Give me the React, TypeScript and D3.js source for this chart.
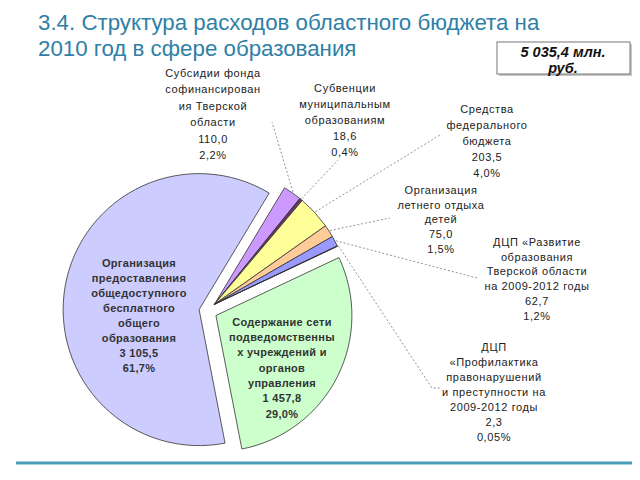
import * as d3 from 'd3';

// slices in clockwise order, starting with the large one
const names = [
  ['Организация', 'предоставления', 'общедоступного', 'бесплатного', 'общего', 'образования'],
  ['Субсидии фонда', 'софинансирован', 'ия Тверской', 'области'],
  ['Субвенции', 'муниципальным', 'образованиям'],
  ['Средства', 'федерального', 'бюджета'],
  ['Организация', 'летнего отдыха', 'детей'],
  ['ДЦП «Развитие', 'образования', 'Тверской области', 'на 2009-2012 годы'],
  ['ДЦП', '«Профилактика', 'правонарушений', 'и преступности на', '2009-2012 годы'],
  ['Содержание сети', 'подведомственны', 'х учреждений и', 'органов', 'управления'],
];
const values = [3105.5, 110.0, 18.6, 203.5, 75.0, 62.7, 2.3, 1457.8];
const shares = [61.7, 2.2, 0.4, 4.0, 1.5, 1.2, 0.05, 29.0];
const groups = [0, 1, 1, 1, 1, 1, 1, 2];
const total = 5035.4;

const titleLines = ['3.4. Структура расходов областного бюджета на', '2010 год в сфере образования'];

const colors = ['#ccccff', '#cc99ff', '#663366', '#ffff99', '#ffcc99', '#9999ff', '#800000', '#ccffcc'];

// label layout: centre x, first line y, line step
const labelPos: [number, number, number][] = [
  [139, 263, 15], [213, 73, 16.5], [345, 88, 16], [487, 109, 16],
  [441, 190, 14.7], [537, 242, 14.8], [494, 347, 15], [282, 322, 15.3],
];
// where leader lines end (null = label inside slice)
const leaderEnds: ([number, number][] | null)[] = [
  null,
  [[272, 122]],
  [[338, 160]],
  [[440, 135]],
  [[390, 218]],
  [[477, 278]],
  [[432, 388], [440, 388]],
  null,
];
const explode = [8, 10, 10];

const width = 640;
const height = 480;
const cx = 207;
const cy = 311;
const radius = 136;

const ru = d3.formatLocale({ decimal: ',', thousands: ' ', grouping: [3], currency: ['', ''] });
const fmtValue = ru.format(',.1f');
const fmtShare = (p: number) => (p < 0.1 ? p.toFixed(2) : p.toFixed(1)).replace('.', ',') + '%';

export default function App() {
  const start = (169 * Math.PI) / 180;
  const arcs = d3.pie<number>().sort(null).startAngle(start).endAngle(start + 2 * Math.PI)(values);
  const arc = d3.arc<d3.PieArcDatum<number>>().innerRadius(0).outerRadius(radius);

  // each group of slices is pulled out along its own middle angle
  const offsets = [0, 1, 2].map(g => {
    const members = arcs.filter((_, i) => groups[i] === g);
    const a0 = d3.min(members, d => d.startAngle)!;
    const a1 = d3.max(members, d => d.endAngle)!;
    const m = (a0 + a1) / 2;
    return [explode[g] * Math.sin(m), -explode[g] * Math.cos(m)];
  });

  const font = '"Liberation Sans", Arial, sans-serif';

  return (
    <svg width={width} height={height} style={{ position: 'absolute', left: 0, top: 0, background: '#fff' }}>
      {titleLines.map((t, i) => (
        <text key={i} x={38} y={30 + i * 26} fontFamily={font} fontSize={22.3} fill="#2e80a6">{t}</text>
      ))}

      <rect x={499} y={44} width={133} height={32} fill="#c8c8c8" />
      <rect x={497} y={42} width={133} height={32} fill="#fff" stroke="#777" strokeWidth={1} />
      <text x={563} y={57} textAnchor="middle" fontFamily={font} fontSize={14.5} fontWeight="bold" fontStyle="italic" fill="#111">
        {fmtValue(total)} млн.
      </text>
      <text x={563} y={73} textAnchor="middle" fontFamily={font} fontSize={14.5} fontWeight="bold" fontStyle="italic" fill="#111">
        руб.
      </text>

      <g transform={`translate(${cx},${cy})`}>
        {arcs.map((a, i) => {
          const [ox, oy] = offsets[groups[i]];
          return (
            <path key={i} d={arc(a)!} transform={`translate(${ox},${oy})`}
              fill={colors[i]} stroke="#333" strokeWidth={0.8} strokeLinejoin="round" />
          );
        })}
      </g>

      <g fill="none" stroke="#777" strokeWidth={0.8} strokeDasharray="2,2">
        {arcs.map((a, i) => {
          const ends = leaderEnds[i];
          if (!ends) return null;
          const [ox, oy] = offsets[groups[i]];
          const m = (a.startAngle + a.endAngle) / 2;
          const p0: [number, number] = [cx + ox + (radius + 1) * Math.sin(m), cy + oy - (radius + 1) * Math.cos(m)];
          return <path key={i} d={d3.line()([p0, ...ends])!} />;
        })}
      </g>

      {names.map((lines, i) => {
        const inside = leaderEnds[i] === null;
        const all = [...lines, fmtValue(values[i]), fmtShare(shares[i])];
        const [lx, ly, step] = labelPos[i];
        return (
          <text key={i} textAnchor="middle" fontFamily={font}
            fontSize={11}
            fontWeight={inside ? 'bold' : 'normal'}
            letterSpacing={inside ? 0.3 : 0.6}
            fill={inside ? '#333' : '#222'}>
            {all.map((t, j) => (
              <tspan key={j} x={lx} y={ly + j * step} dy="0.35em">{t}</tspan>
            ))}
          </text>
        );
      })}

      <line x1={16} x2={632} y1={463} y2={463} stroke="#4a9cbd" strokeWidth={3} />
    </svg>
  );
}
